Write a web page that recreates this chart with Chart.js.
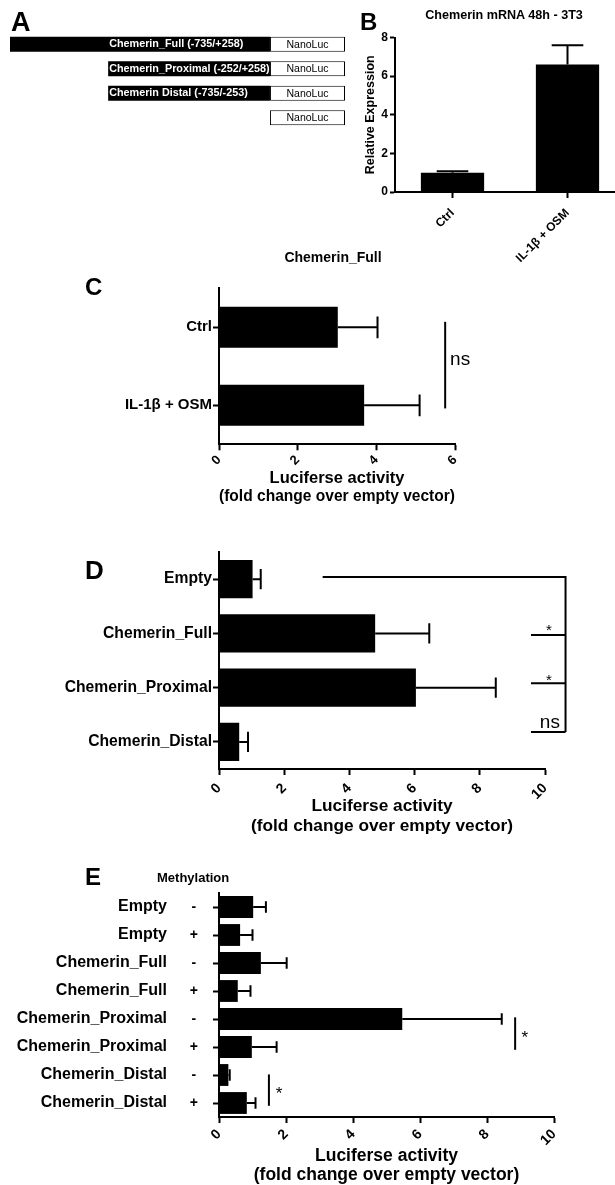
<!DOCTYPE html>
<html>
<head>
<meta charset="utf-8">
<script src="https://cdn.jsdelivr.net/npm/chart.js@4.4.1/dist/chart.umd.min.js"></script>
<style>
  body { margin: 0; background: #fff; width: 615px; height: 1185px; overflow: hidden; position: relative;
         font-family: "Liberation Sans", Arial, sans-serif; color: #000 }
  canvas { position: absolute }
  .lbl { position: absolute; font-weight: bold; line-height: 1; white-space: nowrap }
  .mid { transform: translate(-50%, -50%) }
</style>
</head>
<body>
<canvas id="chartA" width="360" height="135" style="left:0;top:0"></canvas>
<canvas id="chartC" width="615" height="260" style="left:0;top:250px"></canvas>
<canvas id="chartB" width="270" height="262" style="left:360px;top:0"></canvas>
<canvas id="chartD" width="615" height="300" style="left:0;top:540px"></canvas>
<canvas id="chartE" width="615" height="325" style="left:0;top:860px"></canvas>

<div class="lbl" style="left:11px;top:9px;font-size:27px">A</div>
<div class="lbl" style="left:360px;top:10px;font-size:24px">B</div>
<div class="lbl" style="left:85px;top:275px;font-size:24px">C</div>
<div class="lbl" style="left:85px;top:557px;font-size:26px">D</div>
<div class="lbl" style="left:85px;top:865px;font-size:24px">E</div>
<div class="lbl mid" style="left:504px;top:15px;font-size:12.6px">Chemerin mRNA 48h - 3T3</div>
<div class="lbl mid" style="left:333px;top:257px;font-size:14px">Chemerin_Full</div>
<div class="lbl" style="left:157px;top:871px;font-size:13px">Methylation</div>

<script>
const FONT = '"Liberation Sans", Arial, sans-serif'

// A: promoter constructs, schematic units (0-100)
const aConstructs = ['Chemerin_Full (-735/+258)', 'Chemerin_Proximal (-252/+258)', 'Chemerin Distal (-735/-253)', '']
const aPromoter = [[0, 77.6], [29.3, 77.6], [29.3, 77.6], null]
const aReporter = [[77.6, 100], [77.6, 100], [77.6, 100], [77.6, 100]]
const aReporterName = 'NanoLuc'

// B: chemerin mRNA
const bLabels = ['Ctrl', 'IL-1β + OSM']
const bMean = [1.0, 6.6]
const bSem = [0.08, 1.0]

// C: Chemerin_Full reporter
const cLabels = ['Ctrl', 'IL-1β + OSM']
const cMean = [3.02, 3.69]
const cSem = [1.01, 1.41]

// D: constructs
const dLabels = ['Empty', 'Chemerin_Full', 'Chemerin_Proximal', 'Chemerin_Distal']
const dMean = [1.03, 4.79, 6.04, 0.62]
const dSem = [0.25, 1.66, 2.45, 0.27]

// E: methylation
const eNames = ['Empty', 'Empty', 'Chemerin_Full', 'Chemerin_Full',
    'Chemerin_Proximal', 'Chemerin_Proximal', 'Chemerin_Distal', 'Chemerin_Distal']
const eMethyl = ['-', '+', '-', '+', '-', '+', '-', '+']
const eMean = [1.02, 0.63, 1.25, 0.56, 5.47, 0.98, 0.28, 0.83]
const eSem = [0.38, 0.37, 0.77, 0.38, 2.97, 0.74, 0.04, 0.26]

const xTitle = ['Luciferse activity', '(fold change over empty vector)']

Chart.defaults.font.family = FONT
Chart.defaults.color = '#000'
Chart.defaults.animation = false

/**
 * One sided error bars (mean + SEM) from dataset.sem
 */
const errorBars = {
    id: 'errorBars',
    afterDatasetsDraw(chart, args, opts) {
        const ctx = chart.ctx
        const horizontal = chart.options.indexAxis === 'y'
        const vScale = horizontal ? chart.scales.x : chart.scales.y
        chart.data.datasets.forEach((ds, di) => {
            if (!ds.sem) return
            ctx.save()
            ctx.strokeStyle = '#000'
            ctx.lineWidth = 2
            chart.getDatasetMeta(di).data.forEach((bar, i) => {
                const end = vScale.getPixelForValue(ds.data[i] + ds.sem[i])
                const cap = (horizontal ? bar.height : bar.width) * opts.cap / 2
                ctx.beginPath()
                if (horizontal) {
                    ctx.moveTo(bar.x, bar.y)
                    ctx.lineTo(end, bar.y)
                    ctx.moveTo(end, bar.y - cap)
                    ctx.lineTo(end, bar.y + cap)
                } else {
                    ctx.moveTo(bar.x, bar.y)
                    ctx.lineTo(bar.x, end)
                    ctx.moveTo(bar.x - cap, end)
                    ctx.lineTo(bar.x + cap, end)
                }
                ctx.stroke()
            })
            ctx.restore()
        })
    }
}

/**
 * Significance lines and marks, given in scale units
 */
const annotations = {
    id: 'annotations',
    afterDraw(chart, args, opts) {
        const { x, y } = chart.scales
        const ctx = chart.ctx
        ctx.save()
        ctx.strokeStyle = '#000'
        ctx.fillStyle = '#000'
        ctx.lineWidth = 2
        ;(opts.lines || []).forEach(pts => {
            ctx.beginPath()
            pts.forEach(([vx, vy], k) => {
                const px = x.getPixelForValue(vx)
                const py = y.getPixelForValue(vy)
                k ? ctx.lineTo(px, py) : ctx.moveTo(px, py)
            })
            ctx.stroke()
        })
        ;(opts.texts || []).forEach(t => {
            ctx.font = `${t.size}px ${FONT}`
            ctx.textAlign = 'center'
            ctx.textBaseline = 'middle'
            ctx.fillText(t.text, x.getPixelForValue(t.x), y.getPixelForValue(t.y))
        })
        ctx.restore()
    }
}

/**
 * Names written on the construct bars
 */
const constructLabels = {
    id: 'constructLabels',
    afterDatasetsDraw(chart) {
        const ctx = chart.ctx
        const x = chart.scales.x
        const reporter = chart.getDatasetMeta(1).data
        ctx.save()
        ctx.textBaseline = 'middle'
        chart.data.labels.forEach((name, i) => {
            const bar = reporter[i]
            if (name) {
                ctx.fillStyle = '#fff'
                ctx.font = `bold 10.8px ${FONT}`
                ctx.textAlign = 'left'
                ctx.fillText(name, x.getPixelForValue(aPromoter[1][0]) + 1, bar.y)
            }
            ctx.fillStyle = '#000'
            ctx.font = `10.5px ${FONT}`
            ctx.textAlign = 'center'
            ctx.fillText(aReporterName, (bar.x + bar.base) / 2, bar.y + 0.5)
        })
        ctx.restore()
    }
}

const tickGrid = len => ({ offset: false, drawOnChartArea: false, tickLength: len, tickWidth: 2, tickColor: '#000' })
const axisBorder = { color: '#000', width: 2 }

new Chart(document.getElementById('chartA'), {
    type: 'bar',
    data: {
        labels: aConstructs,
        datasets: [
            { data: aPromoter, backgroundColor: '#000', grouped: false, barPercentage: 0.61, categoryPercentage: 1 },
            { data: aReporter, backgroundColor: '#fff', borderColor: '#000', borderWidth: 1, borderSkipped: false,
              grouped: false, barPercentage: 0.61, categoryPercentage: 1 }
        ]
    },
    options: {
        indexAxis: 'y', responsive: false,
        layout: { padding: { left: 10, top: 32, right: 15, bottom: 5 } },
        plugins: { legend: { display: false }, tooltip: { enabled: false } },
        scales: { x: { display: false, min: 0, max: 100 }, y: { display: false } }
    },
    plugins: [constructLabels]
})

new Chart(document.getElementById('chartB'), {
    type: 'bar',
    data: {
        labels: bLabels,
        datasets: [{ data: bMean, sem: bSem, backgroundColor: '#000', barPercentage: 0.55, categoryPercentage: 1 }]
    },
    options: {
        responsive: false,
        layout: { padding: { left: 0, top: 37.5, right: 5, bottom: 0 } },
        plugins: { legend: { display: false }, tooltip: { enabled: false }, errorBars: { cap: 0.5 } },
        scales: {
            x: {
                grid: tickGrid(6), border: axisBorder,
                ticks: { minRotation: 45, maxRotation: 45, autoSkip: false, padding: 8, font: { size: 12, weight: 'bold' } },
                afterFit: s => { s.height = 70 }
            },
            y: {
                min: 0, max: 8,
                grid: tickGrid(5), border: axisBorder,
                ticks: { stepSize: 2, padding: 2, font: { size: 12, weight: 'bold' } },
                title: { display: true, text: 'Relative Expression', font: { size: 12.5, weight: 'bold' }, padding: { top: 3.5, bottom: 0 } },
                afterFit: s => { s.width = 35 }
            }
        }
    },
    plugins: [errorBars]
})

/**
 * Horizontal luciferase bar chart
 */
function hbar(id, labels, mean, sem, o) {
    const scales = {
        x: {
            min: 0, max: o.max,
            grid: tickGrid(6), border: axisBorder,
            ticks: { stepSize: 2, minRotation: 45, maxRotation: 45, padding: o.tickPad, font: { size: o.tickSize, weight: 'bold' } },
            title: {
                display: true, text: xTitle,
                font: { size: o.titleSize, weight: 'bold', lineHeight: o.titleLine },
                padding: { top: 0, bottom: o.titlePad }
            },
            afterFit: s => { s.height = o.xHeight }
        },
        y: {
            grid: tickGrid(6), border: axisBorder, weight: 0,
            ticks: { autoSkip: false, padding: o.labelPad, crossAlign: o.crossAlign || 'near', font: { size: o.labelSize, weight: 'bold' } },
            afterFit: s => { s.width = o.yWidth }
        },
        ...(o.extraScales || {})
    }
    if (o.yLabels) scales.y.labels = o.yLabels
    return new Chart(document.getElementById(id), {
        type: 'bar',
        data: {
            labels,
            datasets: [{ data: mean, sem, backgroundColor: '#000', barPercentage: o.bar, categoryPercentage: 1 }]
        },
        options: {
            indexAxis: 'y', responsive: false,
            layout: { padding: { left: 0, top: o.top, right: o.right, bottom: 0 } },
            plugins: { legend: { display: false }, tooltip: { enabled: false }, errorBars: { cap: 0.53 }, annotations: o.notes },
            scales
        },
        plugins: [errorBars, annotations]
    })
}

hbar('chartC', cLabels, cMean, cSem, {
    max: 6, top: 38.3, right: 160, xHeight: 65.7, yWidth: 219, bar: 0.525,
    tickSize: 13, tickPad: 2, labelSize: 15, labelPad: 1, titleSize: 16.5, titleLine: 1.115, titlePad: 4.1,
    notes: {
        lines: [[[5.75, -0.07], [5.75, 1.04]]],
        texts: [{ text: 'ns', x: 6.13, y: 0.42, size: 19 }]
    }
})

hbar('chartD', dLabels, dMean, dSem, {
    max: 10, top: 12, right: 70, xHeight: 71, yWidth: 219, bar: 0.705,
    tickSize: 14, tickPad: 5, labelSize: 15.7, labelPad: 1, titleSize: 17.3, titleLine: 1.156, titlePad: 3.3,
    notes: {
        lines: [
            [[3.18, -0.04], [10.63, -0.04], [10.63, 2.82]],
            [[9.57, 1.03], [10.63, 1.03]],
            [[9.57, 1.92], [10.63, 1.92]],
            [[9.57, 2.82], [10.63, 2.82]]
        ],
        texts: [
            { text: '*', x: 10.12, y: 0.96, size: 15 },
            { text: '*', x: 10.12, y: 1.88, size: 15 },
            { text: 'ns', x: 10.15, y: 2.64, size: 19 }
        ]
    }
})

hbar('chartE', eNames, eMean, eSem, {
    max: 10, top: 33, right: 61, xHeight: 68, yWidth: 44, bar: 0.78,
    tickSize: 14, tickPad: 3, labelSize: 14, labelPad: 15, crossAlign: 'center', titleSize: 17.5, titleLine: 1.086, titlePad: 0.5,
    yLabels: eMethyl,
    extraScales: {
        yNames: {
            axis: 'y', type: 'category', position: 'left', labels: eNames, offset: true, weight: 1,
            grid: { display: false, drawTicks: false }, border: { display: false },
            ticks: { autoSkip: false, padding: 8, font: { size: 16, weight: 'bold' } },
            afterFit: s => { s.width = 175 }
        }
    },
    notes: {
        lines: [[[8.84, 3.94], [8.84, 5.10]], [[1.49, 5.98], [1.49, 7.1]]],
        texts: [
            { text: '*', x: 9.13, y: 4.69, size: 17 },
            { text: '*', x: 1.79, y: 6.69, size: 17 }
        ]
    }
})
</script>
</body>
</html>
